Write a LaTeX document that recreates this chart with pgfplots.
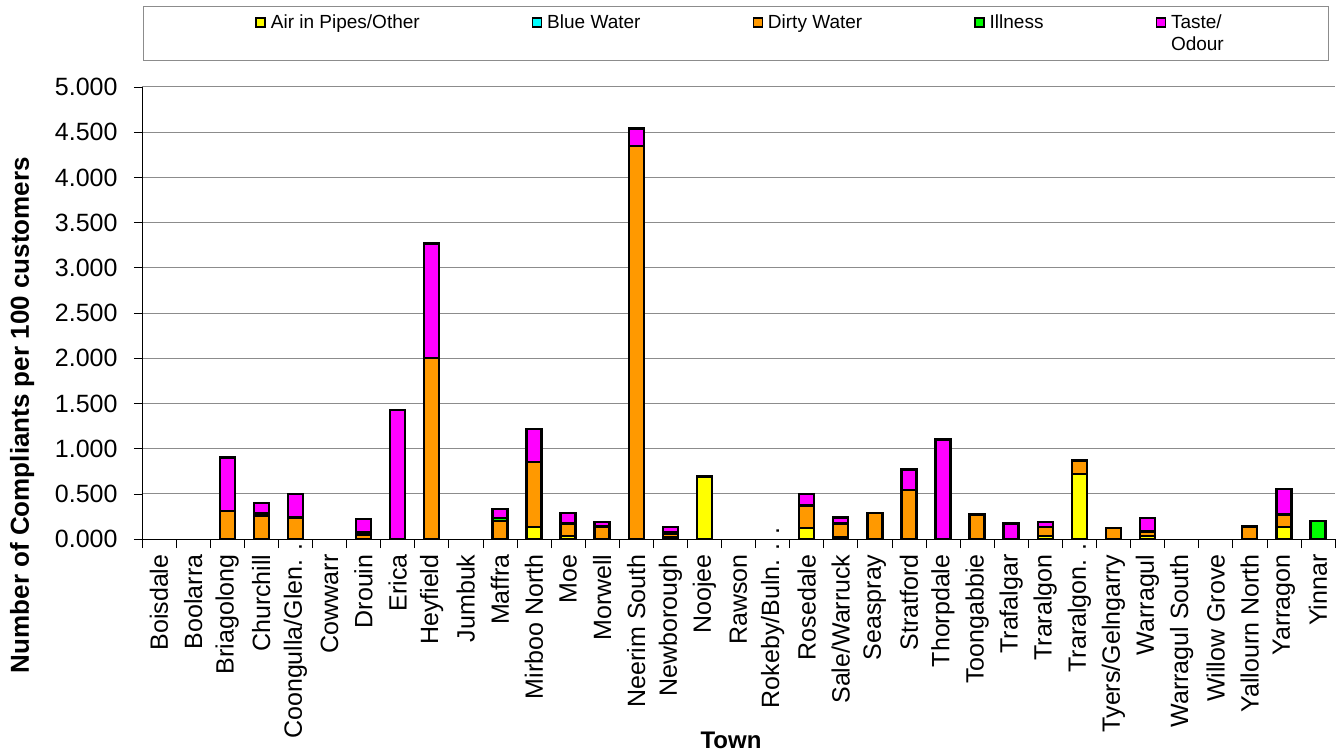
\documentclass[border=0pt]{standalone}
\usepackage{pgfplots}
\pgfplotsset{compat=1.18}
\usepackage{fontspec}
\setmainfont{Liberation Sans}
\definecolor{cAir}{HTML}{FFFF00}
\definecolor{cBlue}{HTML}{00FFFF}
\definecolor{cDirty}{HTML}{FF9900}
\definecolor{cIll}{HTML}{00FF00}
\definecolor{cTaste}{HTML}{FF00FF}
\definecolor{cGrid}{HTML}{8C8C8C}
\begin{document}
\begin{tikzpicture}
\begin{axis}[
  scale only axis, width=1193pt, height=452pt,
  ybar stacked, bar width=15pt,
  xmin=-0.5, xmax=34.5, ymin=0, ymax=5,
  enlargelimits=false,
  xtick={0,...,34},
  xticklabels={Boisdale,Boolarra,Briagolong,Churchill,{Coongulla/Glen.\hspace{9pt}.\hspace{9pt}.\hspace*{-27pt}},Cowwarr,Drouin,Erica,Heyfield,Jumbuk,Maffra,Mirboo North,Moe,Morwell,Neerim South,Newborough,Noojee,Rawson,{Rokeby/Buln.\hspace{9pt}.\hspace{9pt}.\hspace*{-27pt}},Rosedale,Sale/Warruck,Seaspray,Stratford,Thorpdale,Toongabbie,Trafalgar,Traralgon,{Traralgon.\hspace{9pt}.\hspace{9pt}.\hspace*{-27pt}},Tyers/Gelngarry,Warragul,Warragul South,Willow Grove,Yallourn North,Yarragon,Yinnar},
  minor xtick={-0.5,0.5,...,34.5},
  ytick={0,0.5,1,1.5,2,2.5,3,3.5,4,4.5,5},
  axis x line*=bottom, axis y line*=left,
  axis line style={-, black, line width=0.8pt},
  tick pos=left, tick align=outside,
  major tick length=8pt, minor tick length=9pt,
  major x tick style={draw=none},
  minor x tick style={black, line width=0.6pt},
  major y tick style={black, line width=0.6pt},
  ymajorgrids, grid style={cGrid, line width=1pt},
  /pgf/number format/assume math mode=true,
  yticklabel style={/pgf/number format/fixed, /pgf/number format/fixed zerofill, /pgf/number format/precision=3, font=\fontsize{25}{30}\selectfont, xshift=-13pt},
  xticklabel style={rotate=90, anchor=east, font=\fontsize{25}{30}\selectfont, xshift=-4pt},
  ylabel={Number of Compliants per 100 customers},
  ylabel style={at={(axis description cs:-0.1005,0.274)}, anchor=center, font=\fontsize{26}{30}\selectfont\bfseries},
  xlabel={Town},
  xlabel style={at={(axis description cs:0.4937,-0.4624)}, anchor=base, font=\fontsize{24}{28}\selectfont\bfseries},
  legend columns=5,
  legend image code/.code={\draw[#1, draw=black, line width=1.5pt] (0pt,1.5pt) rectangle (9pt,10.5pt); \path (11.5pt,5pt);},
  legend style={at={(axis description cs:0.0008,1.1792)}, anchor=north west, draw=cGrid, line width=1pt,
    font=\fontsize{19}{23}\selectfont, inner xsep=112pt, inner ysep=6pt,
    cells={anchor=base west}, row sep=3pt,
    /tikz/every even column/.append style={column sep=110pt}},
  every axis plot/.append style={draw=black, line width=2.4pt},
]
% Air in Pipes/Other
\addplot[fill=cAir] coordinates {(2,0) (3,0) (4,0) (6,0) (7,0) (8,0) (10,0) (11,0.13) (12,0.03) (13,0) (14,0) (15,0.02) (16,0.69) (19,0.12) (20,0.02) (21,0) (22,0) (23,0) (24,0) (25,0) (26,0.03) (27,0.72) (28,0) (29,0.03) (32,0) (33,0.13) (34,0)};
% Blue Water
\addplot[fill=cBlue] coordinates {(2,0) (3,0) (4,0) (6,0) (7,0) (8,0) (10,0) (11,0) (12,0) (13,0) (14,0) (15,0) (16,0) (19,0) (20,0) (21,0) (22,0) (23,0) (24,0) (25,0) (26,0) (27,0) (28,0) (29,0) (32,0) (33,0) (34,0)};
% Dirty Water
\addplot[fill=cDirty] coordinates {(2,0.31) (3,0.26) (4,0.24) (6,0.05) (7,0) (8,2.00) (10,0.20) (11,0.72) (12,0.14) (13,0.14) (14,4.35) (15,0.04) (16,0) (19,0.25) (20,0.15) (21,0.29) (22,0.54) (23,0) (24,0.27) (25,0) (26,0.10) (27,0.15) (28,0.125) (29,0.05) (32,0.14) (33,0.14) (34,0)};
% Illness
\addplot[fill=cIll] coordinates {(2,0) (3,0.02) (4,0) (6,0.02) (7,0) (8,0) (10,0.03) (11,0) (12,0) (13,0) (14,0) (15,0.01) (16,0) (19,0) (20,0) (21,0) (22,0) (23,0) (24,0) (25,0) (26,0) (27,0) (28,0) (29,0.01) (32,0) (33,0) (34,0.20)};
% Taste/Odour
\addplot[fill=cTaste] coordinates {(2,0.59) (3,0.12) (4,0.26) (6,0.15) (7,1.43) (8,1.27) (10,0.10) (11,0.37) (12,0.12) (13,0.05) (14,0.19) (15,0.06) (16,0) (19,0.13) (20,0.07) (21,0) (22,0.23) (23,1.10) (24,0) (25,0.17) (26,0.06) (27,0) (28,0) (29,0.14) (32,0) (33,0.285) (34,0)};
\addlegendimage{empty legend}
\addlegendimage{empty legend}
\addlegendimage{empty legend}
\addlegendimage{empty legend}
\addlegendimage{empty legend}
\legend{Air in Pipes/Other,Blue Water,Dirty Water,Illness,\makebox[43pt][l]{Taste/},\relax,\relax,\relax,\relax,\makebox[43pt][l]{Odour}}
\coordinate (o) at (rel axis cs:0,0);
\end{axis}
\pgfresetboundingbox
\path ([shift={(-142pt,-215pt)}]o) rectangle ++(1337pt,754pt);
\end{tikzpicture}
\end{document}
